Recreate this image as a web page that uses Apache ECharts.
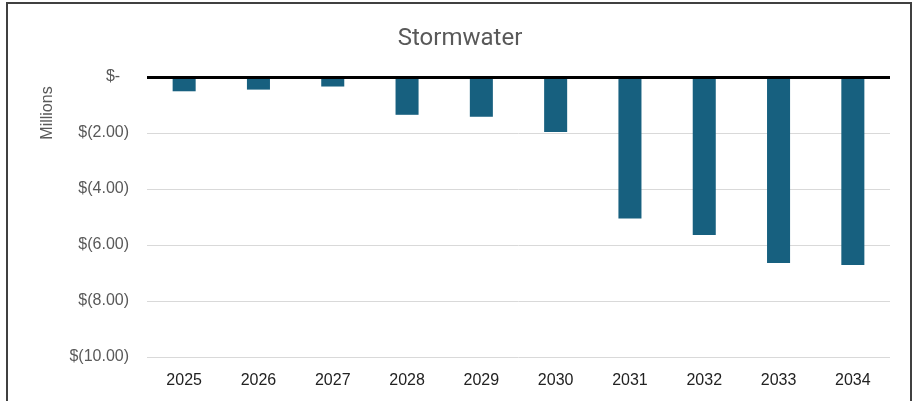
<!DOCTYPE html>
<html>
<head>
<meta charset="utf-8">
<script src="https://cdn.jsdelivr.net/npm/echarts@6/dist/echarts.min.js"></script>
<style>
  html, body { margin: 0; padding: 0; background: #fff; }
  #chart { width: 920px; height: 401px; }
</style>
</head>
<body>
<div id="chart"></div>
<script>
  // years and values in millions of dollars (negative)
  const years = ['2025', '2026', '2027', '2028', '2029', '2030', '2031', '2032', '2033', '2034']
  const stormwater = [-0.51, -0.45, -0.34, -1.35, -1.42, -1.96, -5.05, -5.64, -6.64, -6.71]
  const yTicks = [0, -2, -4, -6, -8, -10]

  function money(v) {
    if (v === 0) return '$-  '
    return '$(' + Math.abs(v).toFixed(2) + ')'
  }

  const chart = echarts.init(document.getElementById('chart'))

  const option = {
    animation: false,
    title: {
      text: 'Stormwater',
      left: 'center',
      top: 22,
      textStyle: {
        fontFamily: 'Roboto',
        fontWeight: 'normal',
        fontSize: 24,
        color: '#595959'
      }
    },
    graphic: [
      {
        type: 'rect',
        shape: { x: 7, y: 3, width: 904, height: 420 },
        style: { fill: 'none', stroke: '#404040', lineWidth: 2 },
        silent: true
      },
      {
        type: 'text',
        x: 48,
        y: 113,
        rotation: Math.PI / 2,
        style: {
          text: 'Millions',
          fill: '#595959',
          font: '16px "Liberation Sans"',
          align: 'center',
          verticalAlign: 'middle'
        },
        silent: true
      }
    ],
    grid: {
      left: 147,
      right: 30,
      top: 77,
      bottom: 44
    },
    xAxis: {
      type: 'category',
      data: years,
      axisLine: { show: false },
      axisTick: { show: false },
      axisLabel: {
        color: '#222',
        fontFamily: 'Liberation Sans',
        fontSize: 16,
        margin: 16
      }
    },
    yAxis: {
      type: 'value',
      min: -10,
      max: 0,
      interval: 2,
      axisLine: { show: false },
      axisTick: { show: false },
      splitLine: { lineStyle: { color: '#d9d9d9', width: 1 } },
      axisLabel: {
        formatter: money,
        color: '#595959',
        fontFamily: 'Liberation Sans',
        fontSize: 16,
        margin: 18
      }
    },
    series: [
      {
        name: 'Stormwater',
        type: 'bar',
        data: stormwater,
        barWidth: '31%',
        itemStyle: { color: '#17607f' },
        markLine: {
          silent: true,
          symbol: 'none',
          label: { show: false },
          lineStyle: { color: '#000', width: 3, type: 'solid' },
          data: [{ yAxis: yTicks[0] }]
        }
      }
    ]
  }

  chart.setOption(option)
</script>
</body>
</html>
